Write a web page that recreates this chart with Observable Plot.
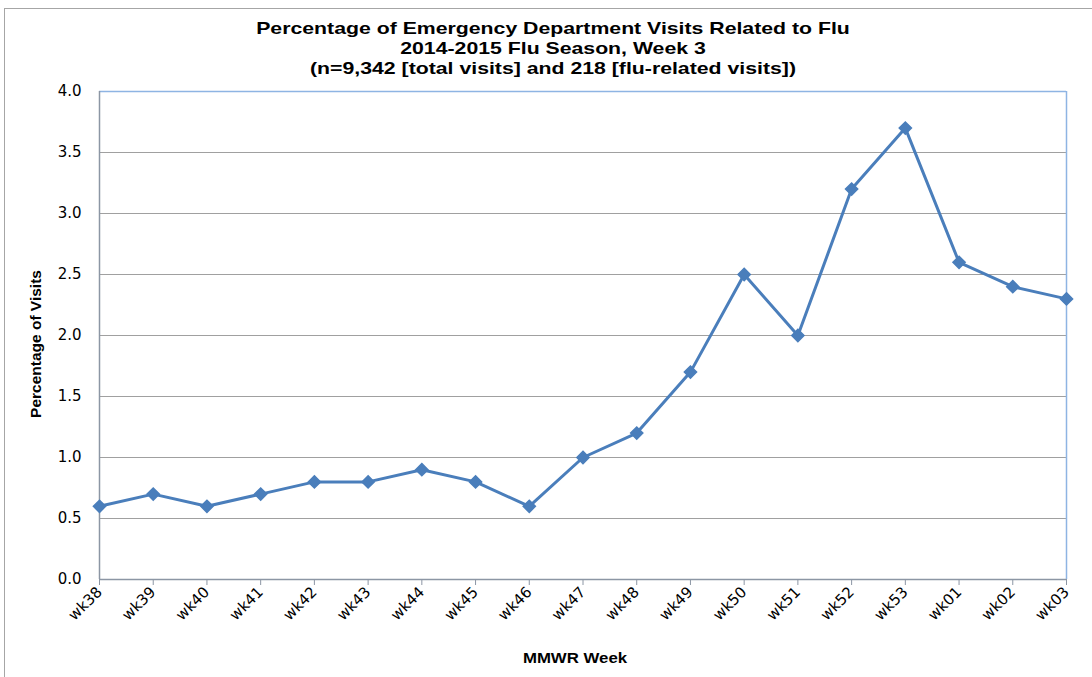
<!DOCTYPE html>
<html>
<head>
<meta charset="utf-8">
<script src="https://cdn.jsdelivr.net/npm/d3@7"></script>
<script src="https://cdn.jsdelivr.net/npm/@observablehq/plot@0.6"></script>
<style>
  html, body { margin: 0; padding: 0; background: #fff; }
  #wrap { position: relative; width: 1092px; height: 677px; overflow: hidden; font-family: "Liberation Sans", Arial, sans-serif; }
  #frame { position: absolute; left: 4px; top: 8px; width: 1200px; height: 800px; border: 1.5px solid #a6a6a6; box-sizing: border-box; }
  #title { position: absolute; left: 553px; top: 19px; transform: translateX(-50%) scaleX(1.25); text-align: center; font-weight: bold; font-size: 17px; line-height: 20px; color: #000; white-space: nowrap; }
  #chart { position: absolute; left: 0; top: 0; }
  #ylab { position: absolute; left: 36px; top: 344px; transform: translate(-50%, -50%) rotate(-90deg); font-weight: bold; font-size: 15.5px; white-space: nowrap; }
  #xlab { position: absolute; left: 575px; top: 657px; transform: translate(-50%, -50%) scaleX(1.12); font-weight: bold; font-size: 15px; white-space: nowrap; }
</style>
</head>
<body>
<div id="wrap">
  <div id="frame"></div>
  <div id="chart"></div>
  <div id="title">Percentage of Emergency Department Visits Related to Flu<br>2014-2015 Flu Season, Week 3<br>(n=9,342 [total visits] and 218 [flu-related visits])</div>
  <div id="ylab">Percentage of Visits</div>
  <div id="xlab">MMWR Week</div>
</div>
<script>
const weeks = ["wk38","wk39","wk40","wk41","wk42","wk43","wk44","wk45","wk46","wk47","wk48","wk49","wk50","wk51","wk52","wk53","wk01","wk02","wk03"];
const percentages = [0.6,0.7,0.6,0.7,0.8,0.8,0.9,0.8,0.6,1.0,1.2,1.7,2.5,2.0,3.2,3.7,2.6,2.4,2.3];
const yTicks = [0,0.5,1.0,1.5,2.0,2.5,3.0,3.5,4.0];

const data = weeks.map((w, i) => ({week: w, pct: percentages[i]}));

const chart = Plot.plot({
  width: 1092,
  height: 677,
  marginTop: 91,
  marginBottom: 98,
  marginLeft: 99,
  marginRight: 26,
  style: {fontFamily: "'DejaVu Sans', sans-serif", background: "transparent", overflow: "visible"},
  x: {type: "point", domain: weeks, padding: 0, round: false},
  y: {domain: [0, 4]},
  marks: [
    Plot.gridY(yTicks, {stroke: "#a0a0a0", strokeOpacity: 1, strokeWidth: 1.2}),
    Plot.ruleY([4], {stroke: "#8eb4e3", strokeWidth: 1.5}),
    Plot.ruleX([weeks[weeks.length - 1]], {stroke: "#8eb4e3", strokeWidth: 1.5}),
    Plot.ruleX([weeks[0]], {stroke: "#8c96a4", strokeWidth: 1.5}),
    Plot.ruleY([0], {stroke: "#8c96a4", strokeWidth: 1.5}),
    Plot.axisY(yTicks, {tickSize: 0, tickPadding: 18, tickFormat: d3.format(".1f"), fontSize: 15, label: null, fill: "#000"}),
    Plot.axisX({tickSize: 6, stroke: "#8c96a4", tickRotate: -45, tickPadding: 4, fontSize: 15, label: null, fill: "#000"}),
    Plot.line(data, {x: "week", y: "pct", stroke: "#4a7ebb", strokeWidth: 3}),
    Plot.dot(data, {x: "week", y: "pct", symbol: "diamond2", r: 5.5, fill: "#4a7ebb", stroke: "#4a7ebb"})
  ]
});
document.getElementById("chart").appendChild(chart);
</script>
</body>
</html>
